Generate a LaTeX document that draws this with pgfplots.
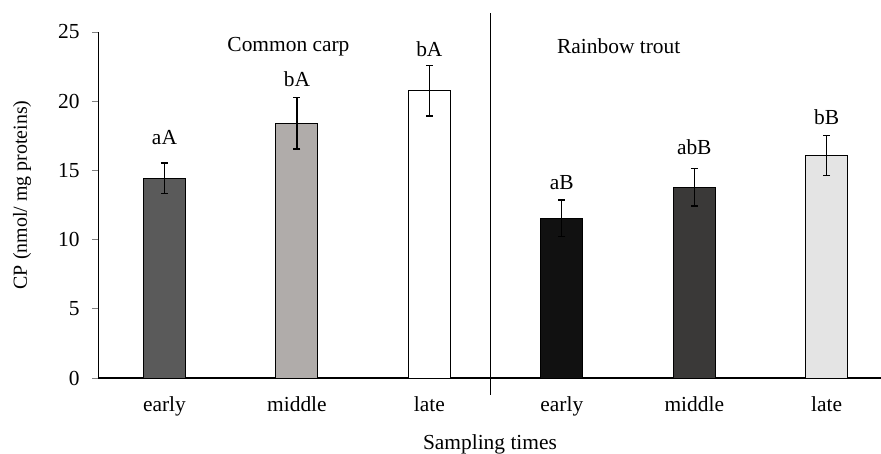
\documentclass[border=0pt]{standalone}
\usepackage{pgfplots}
\pgfplotsset{compat=1.18}
\usepackage{fontspec}
\setmainfont{Liberation Serif}
\definecolor{c1}{HTML}{5A5A5A}
\definecolor{c2}{HTML}{B0ACAA}
\definecolor{c3}{HTML}{FFFFFF}
\definecolor{c4}{HTML}{111111}
\definecolor{c5}{HTML}{3A3938}
\definecolor{c6}{HTML}{E4E4E4}
\newcommand{\bigf}{\fontsize{21.5}{25}\selectfont}
\newcommand{\labf}{\fontsize{20}{24}\selectfont}
\begin{document}
\begin{tikzpicture}[font=\bigf]
\begin{axis}[
  scale only axis, width=783bp, height=346bp,
  xmin=-0.502, xmax=5.41, ymin=0, ymax=25,
  axis x line=bottom, axis y line=left,
  axis line style={-}, x axis line style={line width=1.3bp}, y axis line style={line width=0.8bp},
  ytick={0,5,10,15,20,25},
  xtick={0,1,2,3,4,5},
  xticklabels={early,middle,late,early,middle,late},
  xtick style={draw=none},
  ytick style={line width=0.8bp},
  tick align=outside, major tick length=6bp,
  /pgf/number format/assume math mode=true,
  ticklabel style={font=\bigf},
  yticklabel style={xshift=-9bp},
  xticklabel style={yshift=-9bp},
  ylabel={CP (nmol/ mg proteins)},
  xlabel={Sampling times},
  ylabel style={at={(axis description cs:-0.097,0.529)}, anchor=center, font=\labf},
  xlabel style={at={(axis description cs:0.5006,-0.192)}, anchor=center, font=\bigf},
  clip=false,
  every axis plot/.append style={ybar, bar width=42bp, bar shift=0pt, draw=black, line width=0.9bp,
    error bars/y dir=both, error bars/y explicit, error bars/error bar style={line width=1.3bp, black},
    error bars/error mark options={rotate=90, mark size=3.5bp, line width=1.3bp, black}},
]
\addplot[fill=c1] coordinates {(0,14.43) +- (0,1.10)};
\addplot[fill=c2] coordinates {(1,18.42) +- (0,1.87)};
\addplot[fill=c3] coordinates {(2,20.76) +- (0,1.82)};
\addplot[fill=c4] coordinates {(3,11.54) +- (0,1.33)};
\addplot[fill=c5] coordinates {(4,13.78) +- (0,1.36)};
\addplot[fill=c6] coordinates {(5,16.06) +- (0,1.45)};
\draw[line width=0.8bp] (axis cs:2.464,26.37) -- (axis cs:2.464,-1.23);
\node at (axis cs:0,17.39) {aA};
\node at (axis cs:1,21.58) {bA};
\node at (axis cs:2,23.75) {bA};
\node at (axis cs:3,14.11) {aB};
\node at (axis cs:4,16.67) {abB};
\node at (axis cs:5,18.88) {bB};
\node at (axis cs:0.936,23.94) {Common carp};
\node at (axis cs:3.43,23.94) {Rainbow trout};
\coordinate (bl) at (rel axis cs:0,0);
\coordinate (tr) at (rel axis cs:1,1);
\end{axis}
\pgfresetboundingbox
\path ([shift={(-98bp,-76bp)}]bl) rectangle ([shift={(0bp,32bp)}]tr);
\end{tikzpicture}
\end{document}
